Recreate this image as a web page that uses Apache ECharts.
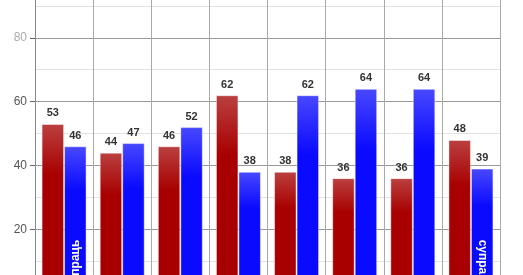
<!DOCTYPE html>
<html>
<head>
<meta charset="utf-8">
<script src="https://cdn.jsdelivr.net/npm/echarts@6/dist/echarts.min.js"></script>
<style>html,body{margin:0;padding:0;background:#fff;overflow:hidden;width:523px;height:275px}#c{position:absolute;left:0;top:-32px;width:523px;height:360px}</style>
</head>
<body>
<div id="c"></div>
<script>
const categories = ['1', '2', '3', '4', '5', '6', '7', '8'];
const redValues = [53, 44, 46, 62, 38, 36, 36, 48];
const blueValues = [46, 47, 52, 38, 62, 64, 64, 39];
const innerText = 'супраць';
const innerTextRotate = [90, null, null, null, null, null, null, -90];

const chart = echarts.init(document.getElementById('c'), null, {renderer: 'canvas'});

function grad(light, base) {
  return new echarts.graphic.LinearGradient(0, 0, 0, 1, [
    {offset: 0, color: light},
    {offset: 0.3, color: base},
    {offset: 1, color: base}
  ]);
}

const barCommon = {
  type: 'bar',
  barWidth: 22.5,
  barGap: '0%'
};

const valueLabel = {
  show: true, position: 'top', distance: 5,
  fontFamily: 'Liberation Sans, Arial, sans-serif', fontWeight: 'bold', fontSize: 11, color: '#333'
};

const overlayData = blueValues.map((v, i) => {
  const r = innerTextRotate[i];
  if (r === null) return {value: v, label: {show: false}};
  return {
    value: v,
    label: {
      show: true, position: 'insideBottom', distance: 4, rotate: r,
      align: r > 0 ? 'left' : 'right', verticalAlign: 'middle',
      formatter: innerText,
      fontFamily: 'Liberation Sans, Arial, sans-serif', fontWeight: 'bold', fontSize: 12, color: '#fff'
    }
  };
});

chart.setOption({
  animation: false,
  grid: {left: 35, right: 23, top: 0, bottom: 35, containLabel: false},
  xAxis: [{
    type: 'category', data: categories,
    axisLine: {show: false}, axisTick: {show: false}, axisLabel: {show: false},
    splitLine: {show: true, lineStyle: {color: '#aaa', width: 1}}
  }, {
    type: 'category', data: categories, show: false
  }],
  yAxis: {
    type: 'value', min: 0, max: 100, interval: 20,
    axisLine: {show: true, lineStyle: {color: '#888'}},
    axisTick: {show: true, length: 5, lineStyle: {color: '#666'}},
    axisLabel: {
      margin: 8, fontSize: 12, fontFamily: 'Liberation Sans, Arial, sans-serif',
      color: function (v) { return v >= 80 ? '#aaa' : '#555'; }
    },
    splitLine: {show: true, lineStyle: {color: '#999'}},
    minorTick: {show: false, splitNumber: 2},
    minorSplitLine: {show: true, lineStyle: {color: '#e2e2e2'}}
  },
  series: [
    Object.assign({}, barCommon, {
      name: 'red', data: redValues, xAxisIndex: 0,
      itemStyle: {color: grad('#bb4040', '#a80000'), borderColor: 'rgba(255,255,255,0.45)', borderWidth: 1},
      label: valueLabel
    }),
    Object.assign({}, barCommon, {
      name: 'blue', data: blueValues, xAxisIndex: 0,
      itemStyle: {color: grad('#4848ff', '#0a0aff'), borderColor: 'rgba(255,255,255,0.45)', borderWidth: 1},
      label: valueLabel
    }),
    Object.assign({}, barCommon, {
      name: 'redOverlay', data: redValues, xAxisIndex: 1, silent: true,
      itemStyle: {color: 'rgba(0,0,0,0)'}, label: {show: false}
    }),
    Object.assign({}, barCommon, {
      name: 'blueOverlay', data: overlayData, xAxisIndex: 1, silent: true,
      itemStyle: {color: 'rgba(0,0,0,0)'}
    })
  ]
});
</script>
</body>
</html>
